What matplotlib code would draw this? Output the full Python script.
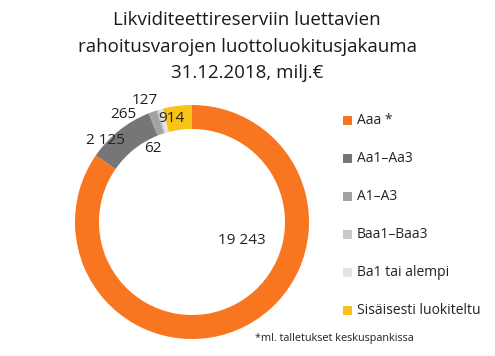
import matplotlib
matplotlib.use("Agg")
import matplotlib.pyplot as plt

plt.rcParams['font.family'] = ['Open Sans', 'DejaVu Sans']

categories = ["Aaa *", "Aa1–Aa3", "A1–A3", "Baa1–Baa3", "Ba1 tai alempi", "Sisäisesti luokiteltu"]
values = [19243, 2125, 265, 62, 127, 914]
value_labels = ["19 243", "2 125", "265", "62", "127", "914"]
colors = ["#F7761F", "#767676", "#A3A3A3", "#C9C9C9", "#E3E3E3", "#F8C216"]

W, H = 495, 356
fig = plt.figure(figsize=(W / 100, H / 100), dpi=100)
ax = fig.add_axes([0, 0, 1, 1])

cx, cy, R = 192, H - 222, 117
ax.pie(values, colors=colors, startangle=90, counterclock=False,
       center=(cx, cy), radius=R, wedgeprops=dict(width=24, linewidth=0),
       frame=True)
ax.set_xlim(0, W)
ax.set_ylim(0, H)
ax.set_aspect('equal')
ax.axis('off')

label_pos = [(242, 241), (105, 140), (123, 115), (153, 148), (145, 100), (171, 118)]
for lab, (px, py) in zip(value_labels, label_pos):
    ax.text(px, H - py, lab, ha='center', va='center', fontsize=11, color='#222222')

title_lines = ["Likviditeettireserviin luettavien", "rahoitusvarojen luottoluokitusjakauma", "31.12.2018, milj.€"]
fs = 14
probe = fig.text(0, 0, title_lines[1], fontsize=fs)
fig.canvas.draw()
w = probe.get_window_extent().width
probe.remove()
fs = fs * min(1.2, max(0.8, 341 / w))
for line, y in zip(title_lines, [20, 47, 73]):
    fig.text(247 / W, 1 - y / H, line, ha='center', va='center', fontsize=fs,
             color='#1a1a1a')

ys = [120, 158, 196, 234, 272, 310]
for cat, col, y in zip(categories, colors, ys):
    ax.add_patch(plt.Rectangle((343, H - y - 4.5), 9, 9, color=col, lw=0))
    ax.text(357, H - y, cat, ha='left', va='center', fontsize=10, color='#222222')

fig.text(255 / W, 1 - 338 / H, "*ml. talletukset keskuspankissa", ha='left', va='center',
         fontsize=7.8, color='#222222')

fig.savefig("out.png", dpi=100)
